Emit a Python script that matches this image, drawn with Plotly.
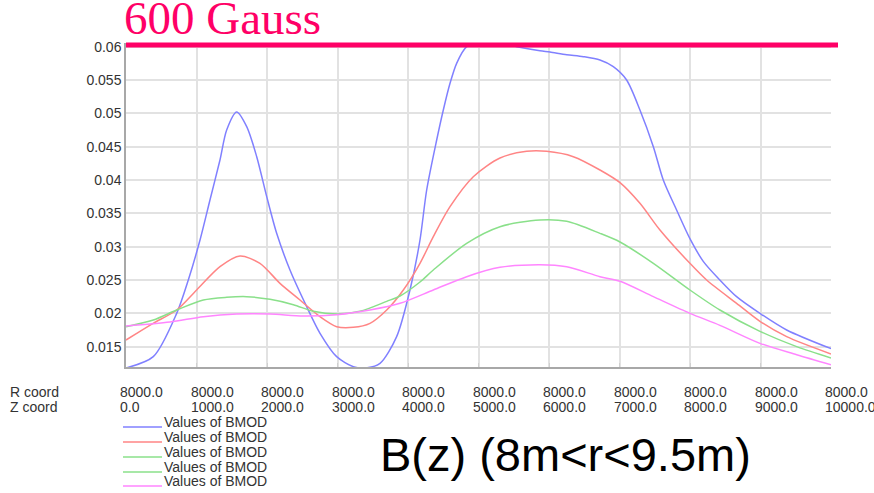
import plotly.graph_objects as go

# Field magnitude BMOD along z at R = 8000 mm, four radial cuts
z_blue = [0, 387, 719, 884, 1050, 1191, 1333, 1428, 1570, 1712, 1854, 1996, 2137, 2326,
          2563, 2752, 2988, 3225, 3390, 3603, 3839, 4028, 4170, 4265, 4407, 4501, 4596,
          4690, 4832, 5068, 5305, 5541, 5872, 6014, 6251, 6487, 6723, 6912, 7101, 7290,
          7480, 7621, 7810, 7999, 8188, 8424, 8661, 8992, 9371, 10000]
b_blue = [0.0118, 0.0135, 0.0200, 0.0250, 0.0310, 0.0370, 0.0430, 0.0475, 0.0502, 0.0480,
          0.0435, 0.0375, 0.0320, 0.0265, 0.0210, 0.0170, 0.0135, 0.0120, 0.0118, 0.0125,
          0.0165, 0.0235, 0.0310, 0.0385, 0.0460, 0.0505, 0.0545, 0.0575, 0.0600, 0.0609,
          0.0605, 0.0600, 0.0594, 0.0592, 0.0588, 0.0585, 0.0580, 0.0570, 0.0550, 0.0505,
          0.0450, 0.0400, 0.0355, 0.0312, 0.0278, 0.0250, 0.0225, 0.0200, 0.0175, 0.0147]

z_red = [0, 152, 385, 719, 1002, 1333, 1617, 1900, 2184, 2468, 2752, 2988, 3225, 3461,
         3698, 3934, 4170, 4359, 4596, 4926, 5305, 5683, 5967, 6345, 6723, 7007, 7290,
         7574, 7999, 8236, 8661, 8992, 9371, 10000]
b_red = [0.0160, 0.0170, 0.0185, 0.0205, 0.0235, 0.0270, 0.0286, 0.0275, 0.0245, 0.0220,
         0.0195, 0.0180, 0.0179, 0.0185, 0.0205, 0.0235, 0.0275, 0.0315, 0.0360, 0.0405,
         0.0433, 0.0443, 0.0443, 0.0435, 0.0415, 0.0396, 0.0365, 0.0325, 0.0275, 0.0250,
         0.0215, 0.0188, 0.0165, 0.0139]

z_green = [0, 387, 719, 1097, 1428, 1712, 2043, 2374, 2657, 2988, 3319, 3698, 3887, 4170,
           4359, 4832, 5305, 5872, 6251, 6723, 7007, 7480, 7999, 8424, 8992, 9513, 10000]
b_green = [0.0180, 0.0190, 0.0205, 0.0220, 0.0224, 0.0225, 0.0221, 0.0213, 0.0203, 0.0199,
           0.0203, 0.0218, 0.0226, 0.0247, 0.0265, 0.0305, 0.0330, 0.0340, 0.0338, 0.0320,
           0.0307, 0.0275, 0.0235, 0.0205, 0.0173, 0.0150, 0.0133]

z_pink = [0, 624, 1097, 1570, 2043, 2515, 2988, 3461, 3887, 4359, 4832, 5305, 5872, 6251,
          6723, 7007, 7480, 7999, 8424, 8992, 9513, 10000]
b_pink = [0.0181, 0.0187, 0.0195, 0.0199, 0.0199, 0.0196, 0.0198, 0.0205, 0.0215, 0.0235,
          0.0255, 0.0269, 0.0273, 0.0270, 0.0255, 0.0248, 0.0225, 0.0200, 0.0182, 0.0155,
          0.0138, 0.0123]

series = [
    (z_blue, b_blue, "#8080FF"),
    (z_red, b_red, "#FF8585"),
    (z_green, b_green, "#8AE08A"),
    (z_pink, b_pink, "#FF85FF"),
]
legend_colors = ["#8080FF", "#FF8585", "#8AE08A", "#8AE08A", "#FF85FF"]
legend_label = "Values of BMOD"

z_ticks = [0, 1000, 2000, 3000, 4000, 5000, 6000, 7000, 8000, 9000, 10000]
r_value = 8000.0
y_ticks = [0.015, 0.02, 0.025, 0.03, 0.035, 0.04, 0.045, 0.05, 0.055, 0.06]
y_range = [0.01195, 0.06055]
gauss_limit = 0.06026

W, H = 874, 493
L, R, T, B = 126, 43, 43, 126
plot_h = H - T - B
plot_w = W - L - R


def py(p):
    """pixel row -> paper y"""
    return (H - B - p) / plot_h


def px(p):
    """pixel column -> paper x"""
    return (p - L) / plot_w


fig = go.Figure()
for zs, bs, col in series:
    fig.add_trace(go.Scatter(x=zs, y=bs, mode="lines",
                             line=dict(color=col, width=1.5, shape="spline", smoothing=0.8),
                             showlegend=False, hoverinfo="skip"))

tick_font = dict(family="Liberation Sans, Arial, sans-serif", size=14, color="#333333")
annotations = []
for zt in z_ticks:
    annotations.append(dict(x=zt, y=py(392), xref="x", yref="paper", xanchor="left",
                            yanchor="middle", xshift=-8, showarrow=False,
                            text=f"{r_value:.1f}", font=tick_font))
    annotations.append(dict(x=zt, y=py(407), xref="x", yref="paper", xanchor="left",
                            yanchor="middle", xshift=-8, showarrow=False,
                            text=f"{float(zt):.1f}", font=tick_font))
annotations.append(dict(x=px(8), y=py(392), xref="paper", yref="paper", xanchor="left",
                        yanchor="middle", showarrow=False, text="R coord", font=tick_font))
annotations.append(dict(x=px(8), y=py(407), xref="paper", yref="paper", xanchor="left",
                        yanchor="middle", showarrow=False, text="Z coord", font=tick_font))

shapes = []
legend_rows = [427, 442, 457, 472, 486]
for row, col in zip(legend_rows, legend_colors):
    shapes.append(dict(type="line", xref="paper", yref="paper",
                       x0=px(123), x1=px(162), y0=py(row), y1=py(row),
                       line=dict(color=col, width=1.5)))
    annotations.append(dict(x=px(162), y=py(row - 5), xref="paper", yref="paper",
                            xanchor="left", yanchor="middle", showarrow=False,
                            text=legend_label,
                            font=dict(family="Liberation Sans, Arial, sans-serif",
                                      size=14, color="#333333")))

# 600 Gauss reference level
gauss_y = (gauss_limit - y_range[0]) / (y_range[1] - y_range[0])
shapes.append(dict(type="line", xref="paper", yref="paper", x0=0, x1=px(838),
                   y0=gauss_y, y1=gauss_y, line=dict(color="#FF0066", width=5)))
annotations.append(dict(x=px(122), y=py(18), xref="paper", yref="paper", xanchor="left",
                        yanchor="middle", showarrow=False, text="600 Gauss",
                        font=dict(family="Liberation Serif, Times New Roman, serif",
                                  size=47, color="#FF0066")))
annotations.append(dict(x=px(378), y=py(454), xref="paper", yref="paper", xanchor="left",
                        yanchor="middle", showarrow=False, text="B(z) (8m&lt;r&lt;9.5m)",
                        font=dict(family="Liberation Sans, Arial, sans-serif",
                                  size=47, color="#000000")))

fig.update_layout(
    width=W, height=H,
    margin=dict(l=L, r=R, t=T, b=B, pad=0),
    paper_bgcolor="white", plot_bgcolor="white",
    xaxis=dict(range=[0, 10000], tickvals=z_ticks, showticklabels=False,
               showgrid=True, gridcolor="#E2E2E2", gridwidth=1.5,
               showline=True, linecolor="#A8A8A8", linewidth=1.5,
               ticks="inside", ticklen=4, tickcolor="#D0D0D0", zeroline=False),
    yaxis=dict(range=y_range, tickvals=y_ticks, tickformat="~g",
               showgrid=True, gridcolor="#E2E2E2", gridwidth=1.5,
               showline=True, linecolor="#A8A8A8", linewidth=1.5,
               ticks="", zeroline=False, tickfont=tick_font),
    shapes=shapes,
    annotations=annotations,
)

fig.write_html("out.html")
